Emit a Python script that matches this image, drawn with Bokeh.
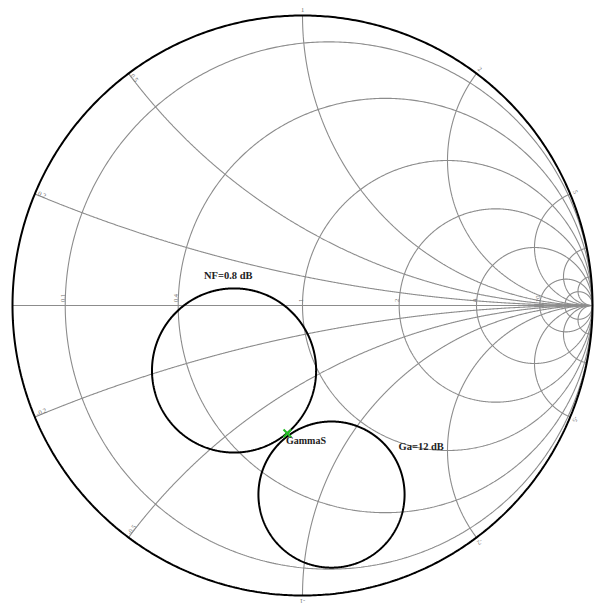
import numpy as np
from bokeh.plotting import figure
from bokeh.models import Range1d
from bokeh.embed import file_html
from bokeh.resources import INLINE
from bokeh.core.properties import value

# Smith chart grid values
resistance_values = [0.1, 0.4, 1, 2, 4, 10, 20]
resistance_labels = ["0.1", "0.4", "1", "2", "4", "10", "20"]
reactance_values = [0.2, 0.5, 1, 2, 5, 10, 20]
reactance_labels = ["0.2", "0.5", "1", "2", "5", "10", "20"]

# Design circles in the source reflection-coefficient plane
nf_center = (-0.236, -0.224)
nf_radius = 0.283
nf_label = "NF=0.8 dB"
ga_center = (0.100, -0.652)
ga_radius = 0.252
ga_label = "Ga=12 dB"
gamma_s = (-0.052, -0.441)
gamma_s_label = "GammaS"

GRID = "#8c8c8c"
LABEL = "#6e6e6e"
SERIF = value("Liberation Serif")

p = figure(width=594, height=608, output_backend="svg", toolbar_location=None,
           min_border=0, x_range=Range1d(-1.0414, 1.0069),
           y_range=Range1d(-1.0448, 1.0517))
p.axis.visible = False
p.grid.visible = False
p.outline_line_color = None
p.background_fill_color = "white"
p.border_fill_color = "white"

# constant-resistance circles
t = np.linspace(0, 2 * np.pi, 721)
for r in resistance_values:
    c, rad = r / (1 + r), 1 / (1 + r)
    p.line(c + rad * np.cos(t), rad * np.sin(t), line_color=GRID, line_width=1.1)

# constant-reactance arcs (inside the unit circle)
phi = np.linspace(0, np.pi / 2 - 1e-4, 800)
rr = np.tan(phi)
for xv in reactance_values:
    for s in (1, -1):
        z = rr + 1j * s * xv
        g = (z - 1) / (z + 1)
        p.line(g.real, g.imag, line_color=GRID, line_width=1.1)

# real axis
p.line([-1, 1], [0, 0], line_color=GRID, line_width=1.1)

# outer boundary
p.line(np.cos(t), np.sin(t), line_color="black", line_width=2)

# resistance labels along the real axis
rl_x = [(r - 1) / (r + 1) for r in resistance_values]
p.text(x=rl_x[:6], y=[0.012] * 6, text=resistance_labels[:6], angle=np.pi / 2,
       text_font_size="6.5px", text_color=LABEL, text_align="left",
       text_baseline="bottom", text_font=SERIF)

# reactance labels at the rim: small values run inward along the arc,
# larger values sit just outside the boundary
in_x, in_y, in_t, in_a = [], [], [], []
out_x, out_y, out_t, out_a = [], [], [], []
for xv, lab in zip(reactance_values[:5], reactance_labels[:5]):
    for s in (1, -1):
        z = 1j * s * xv
        g = (z - 1) / (z + 1)
        ang = np.angle(g)
        text = lab if s > 0 else "-" + lab
        if xv < 1:
            in_x.append(g.real - 0.01 * np.cos(ang))
            in_y.append(g.imag - 0.01 * np.sin(ang))
            in_t.append(text)
            in_a.append(ang + np.pi)
        else:
            out_x.append(g.real + 0.012 * np.cos(ang))
            out_y.append(g.imag + 0.012 * np.sin(ang))
            out_t.append(text)
            out_a.append(ang - np.pi / 2)
p.text(x=in_x, y=in_y, text=in_t, angle=in_a, text_font_size="6.5px",
       text_color=LABEL, text_align="left", text_baseline="bottom", text_font=SERIF)
p.text(x=out_x, y=out_y, text=out_t, angle=out_a, text_font_size="6.5px",
       text_color=LABEL, text_align="center", text_baseline="bottom", text_font=SERIF)

# noise figure and available gain circles
p.line(nf_center[0] + nf_radius * np.cos(t), nf_center[1] + nf_radius * np.sin(t),
       line_color="black", line_width=2)
p.line(ga_center[0] + ga_radius * np.cos(t), ga_center[1] + ga_radius * np.sin(t),
       line_color="black", line_width=2)

p.text(x=[nf_center[0] - 0.02], y=[nf_center[1] + nf_radius + 0.025], text=[nf_label],
       text_font=SERIF, text_font_style="bold", text_font_size="10.5px",
       text_align="center", text_baseline="bottom", text_color="#222222")
p.text(x=[0.331], y=[-0.487], text=[ga_label],
       text_font=SERIF, text_font_style="bold", text_font_size="10.5px",
       text_align="left", text_baseline="middle", text_color="#222222")

# selected source reflection coefficient
p.scatter(x=[gamma_s[0]], y=[gamma_s[1]], marker="x", size=11, line_color="#22bb22",
          line_width=2)
p.text(x=[gamma_s[0] - 0.005], y=[gamma_s[1] - 0.025], text=[gamma_s_label],
       text_font=SERIF, text_font_style="bold", text_font_size="10px",
       text_align="left", text_baseline="middle", text_color="#222222")

open("out.html", "w").write(file_html(p, INLINE))
